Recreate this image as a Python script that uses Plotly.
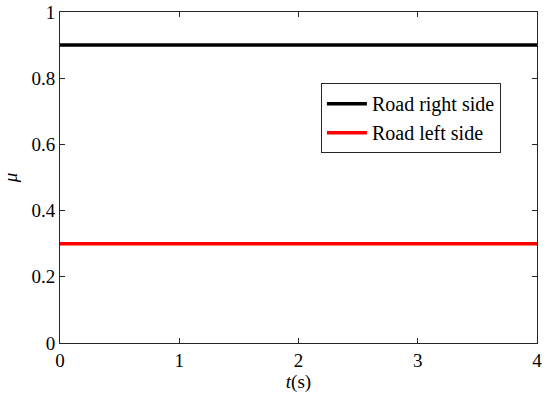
import plotly.graph_objects as go

# time (s) and friction coefficient for each road side
t = [0, 4]
mu_right = [0.9, 0.9]
mu_left = [0.3, 0.3]

x_ticks = [0, 1, 2, 3, 4]
y_ticks = [0, 0.2, 0.4, 0.6, 0.8, 1]
y_labels = ["0", "0.2", "0.4", "0.6", "0.8", "1"]

FONT = "Liberation Serif"

fig = go.Figure()
fig.add_trace(go.Scatter(x=t, y=mu_right, mode="lines", name="Road right side",
                         line=dict(color="black", width=3.5)))
fig.add_trace(go.Scatter(x=t, y=mu_left, mode="lines", name="Road left side",
                         line=dict(color="#ff0000", width=3.5)))

axis_common = dict(
    showline=True, linecolor="#262626", linewidth=1, mirror="ticks",
    ticks="inside", ticklen=5, tickcolor="#262626",
    showgrid=False, zeroline=False, automargin=False,
    tickfont=dict(family=FONT, size=19, color="black"),
)

fig.update_xaxes(range=[0, 4], tickvals=x_ticks, ticktext=[str(v) for v in x_ticks],
                 title=dict(text="<i>t</i>(s)", font=dict(family=FONT, size=19, color="black"),
                            standoff=0),
                 **axis_common)
fig.update_yaxes(range=[0, 1], tickvals=y_ticks, ticktext=y_labels,
                 title=dict(text="<i>μ</i>", font=dict(family=FONT, size=19, color="black"),
                            standoff=14),
                 **axis_common)

fig.update_layout(
    width=550, height=397,
    margin=dict(l=60, r=13, t=12, b=54),
    plot_bgcolor="white", paper_bgcolor="white",
    font=dict(family=FONT, size=19, color="black"),
    legend=dict(x=0.547, y=0.785, xanchor="left", yanchor="top",
                bgcolor="white", bordercolor="#262626", borderwidth=1,
                font=dict(family=FONT, size=20, color="black"),
                tracegroupgap=0, itemwidth=40),
    showlegend=True,
)

# drop the browser's default page margin so the figure sits at the window corner
fig.write_html("out.html", config={"displayModeBar": False},
               post_script="document.body.style.margin='0';")
